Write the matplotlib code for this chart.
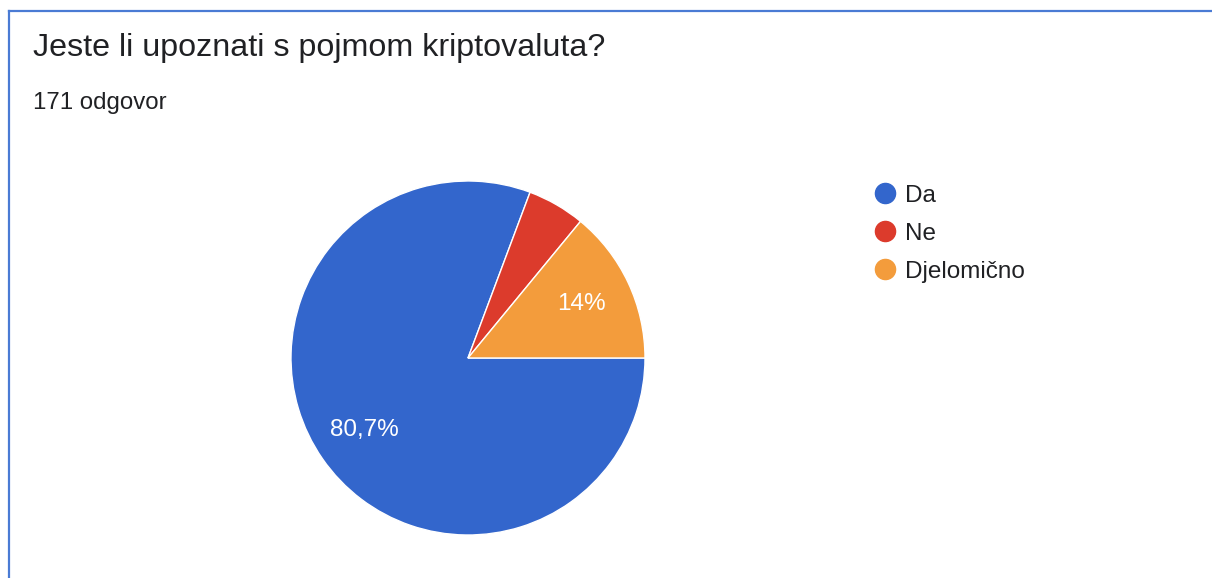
import matplotlib.pyplot as plt
from matplotlib.lines import Line2D

plt.rcParams['font.family'] = ['Liberation Sans', 'DejaVu Sans']

# answers to the survey question (171 responses)
labels = ['Da', 'Ne', 'Djelomično']
counts = [138, 9, 24]
colors = ['#3366CC', '#DC3B2C', '#F39C3C']
total = sum(counts)

W, H = 1212, 578


def pct_label(p):
    # hide the label on small slices, like Google Forms does
    if p < 8:
        return ''
    s = f'{p:.1f}'
    if s.endswith('.0'):
        s = s[:-2]
    return s.replace('.', ',') + '%'


fig = plt.figure(figsize=(W / 100, H / 100), dpi=100)

# frame lines of the screenshot (top and left only)
fig.add_artist(Line2D([9 / W, 1], [1 - 11 / H, 1 - 11 / H], color='#4A7BD4', lw=1.6))
fig.add_artist(Line2D([9 / W, 9 / W], [0, 1 - 11 / H], color='#4A7BD4', lw=1.6))

fig.text(33 / W, 1 - 48 / H, 'Jeste li upoznati s pojmom kriptovaluta?',
         fontsize=23.2, color='#202124', va='center', ha='left')
fig.text(33 / W, 1 - 103 / H, f'{total} odgovor',
         fontsize=17.3, color='#202124', va='center', ha='left')

ax = fig.add_axes([(468 - 177) / W, (H - 358 - 177) / H, 354 / W, 354 / H])
wedges, texts, autotexts = ax.pie(counts, colors=colors, startangle=0, counterclock=False,
                                  autopct=pct_label, pctdistance=0.71,
                                  wedgeprops={'edgecolor': 'white', 'linewidth': 1})
for t in autotexts:
    t.set_color('white')
    t.set_fontsize(17.5)
ax.set_xlim(-1, 1)
ax.set_ylim(-1, 1)
ax.set_aspect('equal')
ax.axis('off')

# legend drawn by hand, one row per answer
for i, (lab, c) in enumerate(zip(labels, colors)):
    y = 1 - (193 + 38 * i) / H
    fig.add_artist(Line2D([885 / W], [y], marker='o', markersize=14.5, color=c, linestyle=''))
    fig.text(905 / W, y - 3 / H, lab, fontsize=17.5, color='#202124', va='center', ha='left')

fig.savefig('out.png', dpi=100)
